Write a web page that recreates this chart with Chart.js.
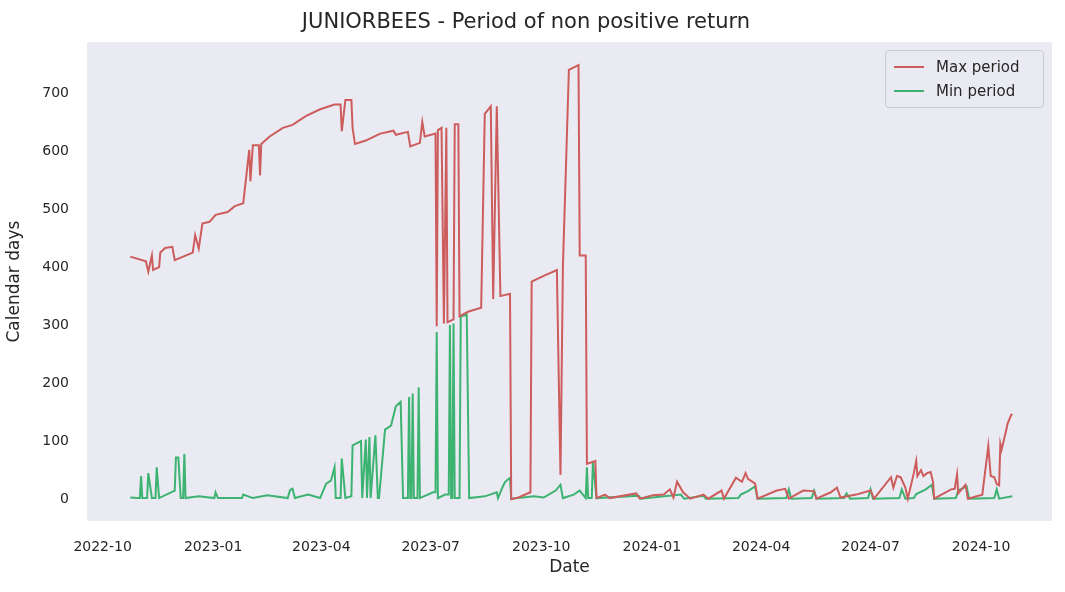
<!DOCTYPE html>
<html>
<head>
<meta charset="utf-8">
<script src="https://cdn.jsdelivr.net/npm/chart.js@4/dist/chart.umd.min.js"></script>
<style>
  body { margin: 0; background: #fff; font-family: "DejaVu Sans", sans-serif; }
  #wrap { position: relative; width: 1065px; height: 592px; }
  #legend { position: absolute; left: 885px; top: 50px; width: 141px; background: rgba(234,234,242,0.8); border: 1px solid #ccc; border-radius: 4px; padding: 4px 8px 4px 8px; font-size: 15px; color: #262626; }
  #legend div { display: flex; align-items: center; height: 24px; }
  #legend span.l { display: inline-block; width: 30px; height: 2px; margin-right: 12px; }
</style>
</head>
<body>
<div id="wrap">
  <canvas id="grafico" width="1065" height="592"></canvas>
  <div id="legend">
    <div><span class="l" style="background:#cd5c5c"></span>Max period</div>
    <div><span class="l" style="background:#3cb371"></span>Min period</div>
  </div>
</div>
<script>
// Max period
const maxDates = ['2022-10-24','2022-11-06','2022-11-08','2022-11-11','2022-11-12','2022-11-17','2022-11-18','2022-11-22','2022-11-28','2022-11-30',
  '2022-12-15','2022-12-17','2022-12-20','2022-12-23','2022-12-29','2023-01-03','2023-01-13','2023-01-19','2023-01-26','2023-01-31',
  '2023-02-01','2023-02-03','2023-02-08','2023-02-09','2023-02-10','2023-02-17','2023-02-28','2023-03-08','2023-03-19','2023-03-31',
  '2023-04-12','2023-04-17','2023-04-18','2023-04-21','2023-04-26','2023-04-27','2023-04-29','2023-05-08','2023-05-20','2023-05-31',
  '2023-06-02','2023-06-12','2023-06-14','2023-06-22','2023-06-24','2023-06-26','2023-07-05','2023-07-06','2023-07-07','2023-07-10',
  '2023-07-12','2023-07-14','2023-07-15','2023-07-20','2023-07-21','2023-07-24','2023-07-25','2023-08-01','2023-08-12','2023-08-15',
  '2023-08-20','2023-08-22','2023-08-25','2023-08-28','2023-09-05','2023-09-06','2023-09-12','2023-09-22','2023-09-23','2023-10-03',
  '2023-10-14','2023-10-17','2023-10-19','2023-10-24','2023-11-01','2023-11-02','2023-11-07','2023-11-08','2023-11-15','2023-11-16',
  '2023-11-23','2023-11-27','2023-12-19','2023-12-22','2024-01-02','2024-01-11','2024-01-16','2024-01-19','2024-01-22','2024-01-27',
  '2024-02-02','2024-02-13','2024-02-17','2024-02-28','2024-03-01','2024-03-11','2024-03-16','2024-03-19','2024-03-21','2024-03-27',
  '2024-03-29','2024-04-14','2024-04-21','2024-04-24','2024-05-06','2024-05-15','2024-05-17','2024-05-29','2024-06-03','2024-06-06',
  '2024-06-19','2024-07-01','2024-07-04','2024-07-18','2024-07-20','2024-07-23','2024-07-26','2024-07-30','2024-08-01','2024-08-06',
  '2024-08-08','2024-08-09','2024-08-12','2024-08-14','2024-08-17','2024-08-20','2024-08-22','2024-08-23','2024-09-06','2024-09-09',
  '2024-09-11','2024-09-12','2024-09-18','2024-09-20','2024-10-02','2024-10-07','2024-10-09','2024-10-12','2024-10-14','2024-10-16',
  '2024-10-17','2024-10-18','2024-10-22','2024-10-23','2024-10-26','2024-10-27'];
const maxValues = [418,410,392,420,395,400,425,433,435,412,
  425,455,432,475,478,490,495,505,510,602,
  548,610,610,558,612,625,640,645,660,672,
  680,680,634,688,688,640,612,618,630,635,
  628,633,608,614,650,625,630,298,636,640,
  303,640,305,310,646,646,315,323,330,664,
  677,345,677,350,354,0,3,12,375,385,
  395,42,400,740,748,420,420,61,66,2,
  8,2,10,1,7,8,17,3,30,12,
  1,8,1,15,1,37,30,45,35,27,
  1,15,18,1,15,14,1,12,20,3,
  8,15,1,38,20,40,38,20,1,45,
  66,40,50,40,45,47,30,1,17,18,
  43,10,25,1,8,92,40,38,26,24,
  95,85,120,130,145,147];

// Min period
const minDates = ['2022-10-24','2022-10-30','2022-11-01','2022-11-02','2022-11-03','2022-11-07','2022-11-08','2022-11-11','2022-11-14','2022-11-15',
  '2022-11-17','2022-11-30','2022-12-01','2022-12-03','2022-12-05','2022-12-07','2022-12-08','2022-12-09','2022-12-20','2023-01-02',
  '2023-01-03','2023-01-05','2023-01-25','2023-01-26','2023-02-03','2023-02-15','2023-03-04','2023-03-06','2023-03-08','2023-03-10',
  '2023-03-21','2023-03-31','2023-04-05','2023-04-09','2023-04-12','2023-04-13','2023-04-17','2023-04-18','2023-04-21','2023-04-26',
  '2023-04-27','2023-05-04','2023-05-05','2023-05-08','2023-05-09','2023-05-11','2023-05-12','2023-05-16','2023-05-18','2023-05-19',
  '2023-05-24','2023-05-29','2023-06-02','2023-06-06','2023-06-08','2023-06-12','2023-06-13','2023-06-14','2023-06-15','2023-06-16',
  '2023-06-17','2023-06-20','2023-06-21','2023-06-22','2023-07-03','2023-07-05','2023-07-06','2023-07-07','2023-07-13','2023-07-16',
  '2023-07-17','2023-07-18','2023-07-19','2023-07-20','2023-07-21','2023-07-25','2023-07-26','2023-07-31','2023-08-02','2023-08-15',
  '2023-08-25','2023-08-26','2023-08-30','2023-09-01','2023-09-05','2023-09-06','2023-09-25','2023-10-03','2023-10-13','2023-10-17',
  '2023-10-19','2023-10-28','2023-11-02','2023-11-07','2023-11-08','2023-11-09','2023-11-12','2023-11-13','2023-11-16','2023-12-21',
  '2023-12-23','2024-01-25','2024-01-28','2024-02-13','2024-02-15','2024-03-13','2024-03-15','2024-03-21','2024-03-27','2024-03-29',
  '2024-04-22','2024-04-24','2024-04-26','2024-05-13','2024-05-15','2024-05-17','2024-06-09','2024-06-11','2024-06-14','2024-06-29',
  '2024-07-01','2024-07-03','2024-07-25','2024-07-27','2024-07-30','2024-08-06','2024-08-08','2024-08-16','2024-08-21','2024-08-23',
  '2024-09-10','2024-09-12','2024-09-19','2024-09-21','2024-10-12','2024-10-14','2024-10-16','2024-10-27'];
const minValues = [3,2,2,40,2,2,45,2,2,55,
  2,15,72,72,2,2,78,2,5,2,
  12,2,2,8,2,7,2,16,18,2,
  8,2,27,32,55,2,2,70,2,5,
  93,100,2,103,2,107,2,110,2,2,
  120,127,160,168,2,2,176,2,2,182,
  2,2,193,2,12,12,288,2,8,8,
  300,2,2,303,2,2,315,318,2,5,
  12,2,22,30,37,1,5,3,15,25,
  2,8,15,2,55,2,2,64,2,6,
  1,8,1,6,1,2,8,14,22,1,
  2,17,1,2,15,1,2,10,1,2,
  17,1,2,17,1,2,9,17,25,1,
  2,15,22,1,2,17,1,5];

const xTicks = ['2022-10','2023-01','2023-04','2023-07','2023-10','2024-01','2024-04','2024-07','2024-10'];
const yTicks = [0,100,200,300,400,500,600,700];

const toPoints = (dates, values) => dates.map((d, i) => ({ x: Date.parse(d + 'T00:00:00Z'), y: values[i] }));

const bgPlugin = {
  id: 'bg',
  beforeDraw(chart) {
    const a = chart.chartArea, c = chart.ctx;
    c.save(); c.fillStyle = '#eaeaf2';
    c.fillRect(a.left, a.top, a.right - a.left, a.bottom - a.top);
    c.restore();
  }
};

const tickFont = { family: 'DejaVu Sans', size: 14 };

new Chart(document.getElementById('grafico').getContext('2d'), {
  type: 'line',
  data: {
    datasets: [
      { label: 'Max period', data: toPoints(maxDates, maxValues), borderColor: '#cd5c5c', borderWidth: 2, pointRadius: 0, tension: 0 },
      { label: 'Min period', data: toPoints(minDates, minValues), borderColor: '#3cb371', borderWidth: 2, pointRadius: 0, tension: 0 }
    ]
  },
  plugins: [bgPlugin],
  options: {
    responsive: false,
    animation: false,
    layout: { padding: { left: 0, right: 13, top: 0, bottom: 10 } },
    plugins: {
      legend: { display: false },
      tooltip: { enabled: false },
      title: { display: true, text: 'JUNIORBEES - Period of non positive return', color: '#262626',
        font: { family: 'DejaVu Sans', size: 21, weight: 'normal' }, padding: { top: 10, bottom: 7 } }
    },
    scales: {
      x: {
        type: 'linear',
        min: Date.parse('2022-09-18T00:00:00Z'),
        max: Date.parse('2024-11-29T00:00:00Z'),
        grid: { display: false }, border: { display: false },
        afterBuildTicks: s => { s.ticks = xTicks.map(t => ({ value: Date.parse(t + '-01T00:00:00Z') })); },
        afterFit: s => { s.height = 61; },
        ticks: { color: '#262626', font: tickFont, maxRotation: 0, autoSkip: false, padding: 10,
          callback: v => { const d = new Date(v); return d.getUTCFullYear() + '-' + String(d.getUTCMonth() + 1).padStart(2, '0'); } },
        title: { display: true, text: 'Date', color: '#262626', font: { family: 'DejaVu Sans', size: 17 }, padding: { top: 2 } }
      },
      y: {
        min: -37.5, max: 787.5,
        grid: { display: false }, border: { display: false },
        afterBuildTicks: s => { s.ticks = yTicks.map(v => ({ value: v })); },
        afterFit: s => { s.width = 87; },
        ticks: { color: '#262626', font: tickFont, padding: 10 },
        title: { display: true, text: 'Calendar days', color: '#262626', font: { family: 'DejaVu Sans', size: 17 }, padding: { bottom: 4 } }
      }
    }
  }
});
</script>
</body>
</html>
